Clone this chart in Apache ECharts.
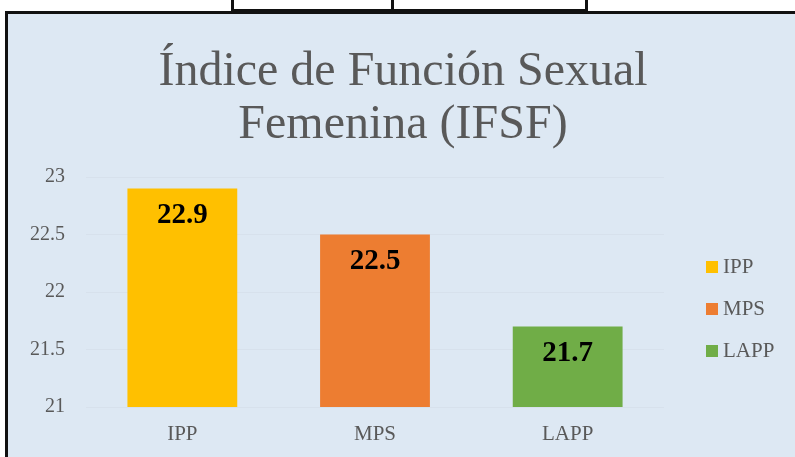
<!DOCTYPE html>
<html lang="es">
<head>
<meta charset="UTF-8">
<style>
    body {
        margin: 0;
        background: #ffffff;
        width: 795px;
        height: 457px;
        overflow: hidden;
        position: relative;
    }
    .cell {
        position: absolute;
        top: -4px;
        height: 10px;
        border: 3px solid #111;
        background: #ffffff;
    }
    #frame {
        position: absolute;
        left: 5px;
        top: 11px;
        width: 800px;
        height: 460px;
        border-left: 3px solid #111;
        border-top: 3px solid #111;
        background: #dde8f3;
    }
    #chart {
        width: 790px;
        height: 446px;
    }
</style>
<script src="https://cdn.jsdelivr.net/npm/echarts@6/dist/echarts.min.js"></script>
</head>
<body>
<div class="cell" style="left:231px;width:157px;"></div>
<div class="cell" style="left:391px;width:191px;"></div>
<div id="frame"><div id="chart"></div></div>
<script>
const titleText = 'Índice de Función Sexual\nFemenina (IFSF)';
const categories = ['IPP', 'MPS', 'LAPP'];
const seriesNames = ['IPP', 'MPS', 'LAPP'];
const values = [22.9, 22.5, 21.7];
const colors = ['#ffc000', '#ed7d31', '#70ad47'];
const yTicks = [21, 21.5, 22, 22.5, 23];

const serif = '"Liberation Serif", "Times New Roman", serif';

const series = seriesNames.map((name, i) => ({
    name: name,
    type: 'bar',
    barGap: '-100%',
    barCategoryGap: '43%',
    itemStyle: { color: colors[i] },
    label: {
        show: true,
        position: 'insideTop',
        distance: 13,
        fontFamily: serif,
        fontWeight: 'bold',
        fontSize: 29,
        color: '#000'
    },
    data: categories.map((c, j) => (j === i ? values[i] : '-'))
}));

const chart = echarts.init(document.getElementById('chart'));
chart.setOption({
    animation: false,
    backgroundColor: '#dde8f3',
    title: {
        text: titleText,
        left: 'center',
        top: 27,
        textStyle: {
            fontFamily: serif,
            fontWeight: 'normal',
            fontSize: 48,
            lineHeight: 53,
            color: '#595959'
        }
    },
    legend: {
        orient: 'vertical',
        left: 693,
        top: 237,
        itemWidth: 12,
        itemHeight: 12,
        itemGap: 20,
        icon: 'rect',
        data: seriesNames,
        textStyle: {
            fontFamily: serif,
            fontSize: 21,
            lineHeight: 22,
            color: '#595959'
        }
    },
    grid: {
        left: 78,
        right: 134,
        top: 163,
        bottom: 53
    },
    xAxis: {
        type: 'category',
        data: categories,
        axisLine: { show: false },
        axisTick: { show: false },
        axisLabel: {
            margin: 17,
            fontFamily: serif,
            fontSize: 21,
            color: '#595959'
        }
    },
    yAxis: {
        type: 'value',
        min: yTicks[0],
        max: yTicks[yTicks.length - 1],
        interval: 0.5,
        axisLine: { show: false },
        axisTick: { show: false },
        axisLabel: {
            margin: 21,
            fontFamily: serif,
            fontSize: 20,
            color: '#595959'
        },
        splitLine: { lineStyle: { color: '#d7e1ec', width: 1 } }
    },
    series: series
});
</script>
</body>
</html>
